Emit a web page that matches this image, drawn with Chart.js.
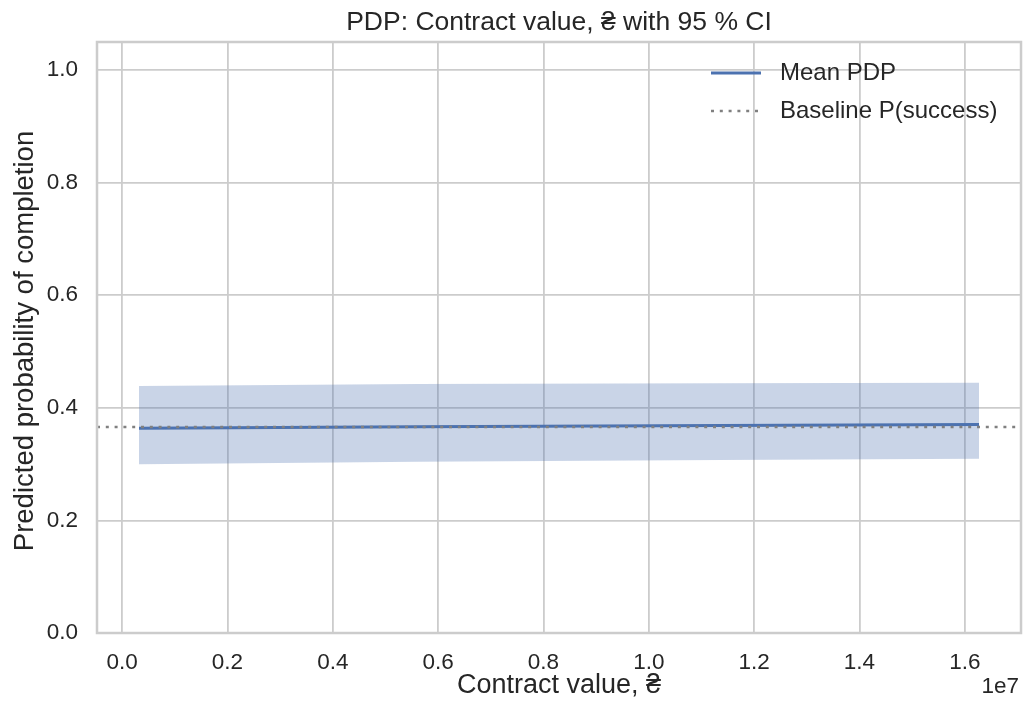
<!DOCTYPE html>
<html>
<head>
<meta charset="utf-8">
<script src="https://cdn.jsdelivr.net/npm/chart.js@4"></script>
<style>
  html, body { margin: 0; padding: 0; background: #ffffff; }
  canvas { display: block; }
</style>
</head>
<body>
<canvas id="pdp" width="1027" height="705"></canvas>
<script>
// Partial dependence of completion probability on contract value
const gridValues = [320000, 5600000, 11350000, 16270000];
const meanPdp = [0.3636, 0.3664, 0.3686, 0.3705];
const ciUpper = [0.4387, 0.4423, 0.4435, 0.4446];
const ciLower = [0.2996, 0.3043, 0.3073, 0.3096];
const baselineRate = [0.366];

const xTickValues = [0, 2e6, 4e6, 6e6, 8e6, 1e7, 1.2e7, 1.4e7, 1.6e7];
const yTickValues = [0, 0.2, 0.4, 0.6, 0.8, 1.0];
const xLimits = [-477500, 17067500];
const yLimits = [0, 1.05];

const seriesLabels = ['Mean PDP', 'Baseline P(success)'];
const titleText = 'PDP: Contract value, ₴ with 95 % CI';
const xTitle = 'Contract value, ₴';
const yTitle = 'Predicted probability of completion';
const offsetText = '1e7';

const FONT = '"Liberation Sans", Arial, sans-serif';
const TEXT = '#262626';
const GRID = '#cccccc';
const BLUE = '#4c72b0';
const GRAY = '#808080';

const toPoints = (ys) => gridValues.map((x, i) => ({ x: x, y: ys[i] }));

// Frame, titles, offset label and legend
const decor = {
  id: 'decor',
  afterDatasetsDraw(chart) {
    const { ctx, chartArea: a } = chart;
    ctx.save();
    ctx.strokeStyle = GRID;
    ctx.lineWidth = 2.5;
    ctx.strokeRect(a.left, a.top, a.right - a.left, a.bottom - a.top);
    ctx.restore();
  },
  afterDraw(chart) {
    const { ctx, chartArea: a } = chart;
    const cx = (a.left + a.right) / 2;
    ctx.save();
    ctx.fillStyle = TEXT;
    ctx.textBaseline = 'alphabetic';
    ctx.textAlign = 'center';
    ctx.font = '26.5px ' + FONT;
    ctx.fillText(titleText, cx, 29.5);
    ctx.font = '27px ' + FONT;
    ctx.fillText(xTitle, cx, 693);
    ctx.save();
    ctx.font = '27.5px ' + FONT;
    ctx.translate(33, 341);
    ctx.rotate(-Math.PI / 2);
    ctx.fillText(yTitle, 0, 0);
    ctx.restore();

    ctx.font = '22.5px ' + FONT;
    ctx.textAlign = 'right';
    ctx.fillText(offsetText, a.right - 2, 693);

    // legend
    const rows = [
      { y: 73, color: BLUE, width: 3, dash: [] },
      { y: 111, color: GRAY, width: 2.6, dash: [3, 5.8] }
    ];
    ctx.textAlign = 'left';
    ctx.textBaseline = 'middle';
    ctx.font = '24px ' + FONT;
    rows.forEach((r, i) => {
      ctx.save();
      ctx.strokeStyle = r.color;
      ctx.lineWidth = r.width;
      ctx.setLineDash(r.dash);
      ctx.beginPath();
      ctx.moveTo(711, r.y);
      ctx.lineTo(761, r.y);
      ctx.stroke();
      ctx.restore();
      ctx.fillStyle = TEXT;
      ctx.fillText(seriesLabels[i], 780, r.y);
    });
    ctx.restore();
  }
};

new Chart(document.getElementById('pdp'), {
  type: 'line',
  data: {
    datasets: [
      {
        label: seriesLabels[1],
        data: [{ x: xLimits[0], y: baselineRate[0] }, { x: xLimits[1], y: baselineRate[0] }],
        borderColor: GRAY,
        borderWidth: 2.6,
        borderDash: [3, 5.8],
        pointRadius: 0,
        fill: false
      },
      {
        label: seriesLabels[0],
        data: toPoints(meanPdp),
        borderColor: BLUE,
        borderWidth: 3,
        pointRadius: 0,
        fill: false
      },
      {
        label: '95 % CI upper',
        data: toPoints(ciUpper),
        borderWidth: 0,
        borderColor: 'rgba(0,0,0,0)',
        backgroundColor: 'rgba(76,114,176,0.3)',
        pointRadius: 0,
        fill: '+1'
      },
      {
        label: '95 % CI lower',
        data: toPoints(ciLower),
        borderWidth: 0,
        borderColor: 'rgba(0,0,0,0)',
        pointRadius: 0,
        fill: false
      }
    ]
  },
  options: {
    responsive: false,
    animation: false,
    layout: { padding: { top: 42, right: 6, left: 0, bottom: 0 } },
    plugins: {
      legend: { display: false },
      title: { display: false },
      tooltip: { enabled: false }
    },
    scales: {
      x: {
        type: 'linear',
        min: xLimits[0],
        max: xLimits[1],
        afterBuildTicks: (s) => { s.ticks = xTickValues.map(v => ({ value: v })); },
        afterFit: (s) => { s.height = 72; },
        grid: { color: GRID, lineWidth: 1.8, drawTicks: false },
        border: { display: false },
        ticks: {
          padding: 16,
          color: TEXT,
          font: { family: FONT, size: 22.5 },
          maxRotation: 0,
          autoSkip: false,
          callback: (v) => (v / 1e7).toFixed(1)
        }
      },
      y: {
        type: 'linear',
        min: yLimits[0],
        max: yLimits[1],
        afterBuildTicks: (s) => { s.ticks = yTickValues.map(v => ({ value: v })); },
        afterFit: (s) => { s.width = 97; },
        grid: { color: GRID, lineWidth: 1.8, drawTicks: false },
        border: { display: false },
        ticks: {
          padding: 19,
          color: TEXT,
          font: { family: FONT, size: 22.5 },
          autoSkip: false,
          callback: (v) => v.toFixed(1)
        }
      }
    }
  },
  plugins: [decor]
});
</script>
</body>
</html>
